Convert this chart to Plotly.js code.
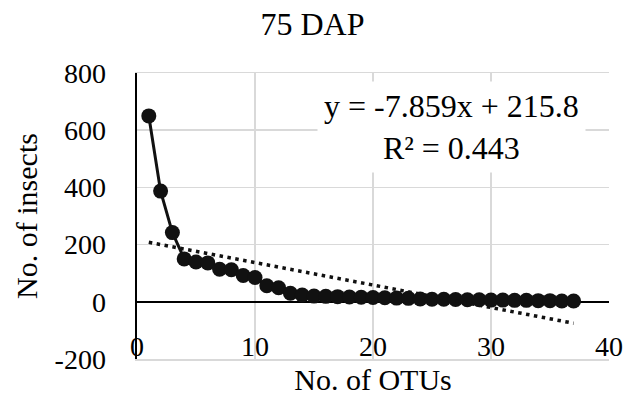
<!DOCTYPE html>
<html>
<head>
<meta charset="utf-8">
<script src="https://cdn.plot.ly/plotly-3.0.1.min.js"></script>
<style>html,body{margin:0;padding:0;background:#fff;}#chart{width:625px;height:400px;}</style>
</head>
<body>
<div id="chart"></div>
<script>
// Data
const otus = [1,2,3,4,5,6,7,8,9,10,11,12,13,14,15,16,17,18,19,20,21,22,23,24,25,26,27,28,29,30,31,32,33,34,35,36,37];
const insects = [650,387,242,150,139,136,114,112,92,85,56,49,30,24,20,19,18,17,16,15,14,13,12,10,9,9,8,7,7,6,6,5,5,4,4,3,3];
const trendSlope = -7.859;
const trendIntercept = 215.8;
const trendR2 = 0.443;
const chartTitle = "75 DAP";
const xTitle = "No. of OTUs";
const yTitle = "No. of insects";
const yTickVals = [-200, 0, 200, 400, 600, 800];
const yTickText = ["-200", "0", "200", "400", "600", "800"];
const xTickVals = [0, 10, 20, 30, 40];
const xTickText = ["0", "10", "20", "30", "40"];

const trendX = [otus[0], otus[otus.length - 1]];
const trendY = trendX.map(x => trendSlope * x + trendIntercept);

const FONT = "Liberation Serif";

const data = [
  {
    x: otus, y: insects, type: "scatter", mode: "lines+markers",
    line: {color: "#111111", width: 3},
    marker: {color: "#111111", size: 15},
    showlegend: false, hoverinfo: "skip"
  },
  {
    x: trendX, y: trendY, type: "scatter", mode: "lines",
    line: {color: "#111111", width: 3.5, dash: "3.5px,4.5px"},
    showlegend: false, hoverinfo: "skip"
  }
];

const layout = {
  width: 625, height: 400,
  margin: {l: 137, r: 16, t: 73, b: 41},
  paper_bgcolor: "#ffffff", plot_bgcolor: "#ffffff",
  font: {family: FONT, size: 28, color: "#000000"},
  title: {text: chartTitle, font: {family: FONT, size: 32, color: "#000"}, x: 0.5, xanchor: "center", y: 1 - 24/400, yanchor: "middle", yref: "container"},
  xaxis: {
    range: [0, 40], tickmode: "array", tickvals: xTickVals, ticktext: xTickText,
    showgrid: true, gridcolor: "#d9d9d9", gridwidth: 1.5,
    zeroline: false, showline: true, linecolor: "#d9d9d9", linewidth: 1.5, mirror: true,
    ticks: "", ticklabelposition: "inside", ticklabeloverflow: "allow",
    tickfont: {family: FONT, size: 28, color: "#000"},
    title: {text: xTitle, font: {family: FONT, size: 30, color: "#000"}, standoff: 8},
    automargin: false
  },
  yaxis: {
    range: [-200, 800], tickmode: "array", tickvals: yTickVals, ticktext: yTickText,
    showgrid: true, gridcolor: "#d9d9d9", gridwidth: 1.5,
    zeroline: true, zerolinecolor: "#000", zerolinewidth: 2.5,
    showline: true, linecolor: "#000", linewidth: 2.5,
    ticks: "", ticklabelstandoff: 23,
    tickfont: {family: FONT, size: 28, color: "#000"},
    title: {text: yTitle, font: {family: FONT, size: 30, color: "#000"}, standoff: 8},
    automargin: false
  },
  annotations: [
    {
      xref: "paper", yref: "paper",
      x: (451 - 137) / 472, y: (359 - 127) / 286,
      xanchor: "center", yanchor: "middle",
      text: "y = " + trendSlope + "x + " + trendIntercept + "<br>R² = " + trendR2,
      showarrow: false, align: "center",
      font: {family: FONT, size: 32, color: "#000"},
      bgcolor: "#ffffff", borderpad: 6
    }
  ]
};

Plotly.newPlot("chart", data, layout, {displayModeBar: false, staticPlot: true});
</script>
</body>
</html>
